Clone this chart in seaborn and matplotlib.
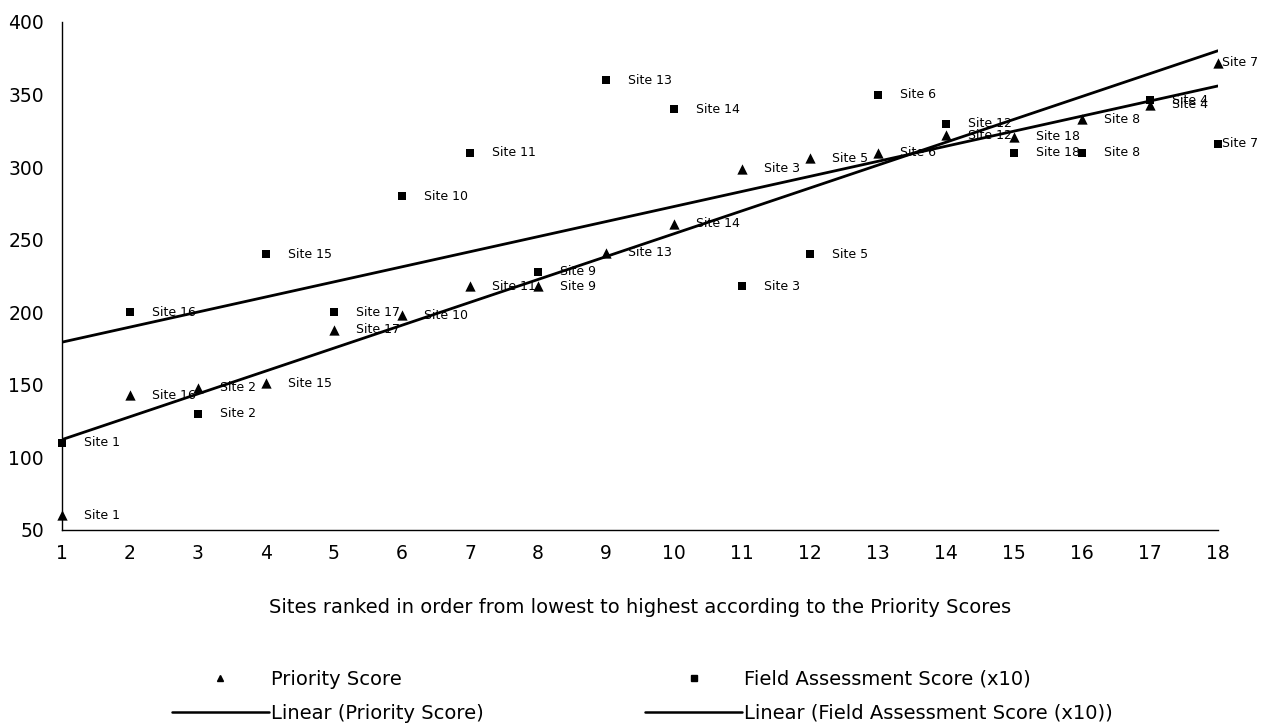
import numpy as np
import pandas as pd
import matplotlib
matplotlib.use("Agg")
import matplotlib.pyplot as plt
from matplotlib.lines import Line2D
import seaborn as sns

# 数据
rank = list(range(1, 19))
sites = ["Site 1", "Site 16", "Site 2", "Site 15", "Site 17", "Site 10", "Site 11", "Site 9", "Site 13",
         "Site 14", "Site 3", "Site 5", "Site 6", "Site 12", "Site 18", "Site 8", "Site 4", "Site 7"]
priority = [60, 143, 148, 151, 188, 198, 218, 218, 241, 261, 299, 306, 310, 322, 321, 333, 343, 372]
field = [110, 200, 130, 240, 200, 280, 310, 228, 360, 340, 218, 240, 350, 330, 310, 310, 346, 316]
y_ticks = [50, 100, 150, 200, 250, 300, 350, 400]

df = pd.DataFrame({"rank": rank, "site": sites, "priority": priority, "field": field})

sns.set_style("white")
plt.rcParams['font.family'] = ['DejaVu Sans']
plt.rcParams['text.color'] = 'black'
plt.rcParams['axes.labelcolor'] = 'black'
plt.rcParams['xtick.color'] = 'black'
plt.rcParams['ytick.color'] = 'black'

fig = plt.figure(figsize=(12.72, 7.26), dpi=100)
ax = fig.add_axes([0.0487, 0.270, 0.9088, 0.6997])

# 散点
sns.scatterplot(data=df, x="rank", y="priority", marker="^", s=55, color="black",
                edgecolor="black", linewidth=0, ax=ax, clip_on=False, zorder=3)
sns.scatterplot(data=df, x="rank", y="field", marker="s", s=34, color="black",
                edgecolor="black", linewidth=0, ax=ax, clip_on=False, zorder=3)

# 线性趋势线
sns.regplot(data=df, x="rank", y="priority", scatter=False, ci=None, ax=ax,
            line_kws={"color": "black", "lw": 2})
sns.regplot(data=df, x="rank", y="field", scatter=False, ci=None, ax=ax,
            line_kws={"color": "black", "lw": 2})

# 数据标签
for col in ["priority", "field"]:
    for r, s, v in zip(df["rank"], df["site"], df[col]):
        dx = 3 if r == rank[-1] else 16
        ax.annotate(s, (r, v), xytext=(dx, 0), textcoords="offset points",
                    ha="left", va="center", fontsize=9, annotation_clip=False)

ax.set_xlim(1, 18)
ax.set_ylim(50, 400)
ax.set_xticks(rank)
ax.set_yticks(y_ticks)
ax.tick_params(axis="both", length=0, labelsize=13.5)
ax.tick_params(axis="x", pad=10)
ax.tick_params(axis="y", pad=13)
ax.set_xlabel("Sites ranked in order from lowest to highest according to the Priority Scores",
              fontsize=14, labelpad=25)
ax.set_ylabel("")
for side in ["top", "right"]:
    ax.spines[side].set_visible(False)
for side in ["left", "bottom"]:
    ax.spines[side].set_color("black")
    ax.spines[side].set_linewidth(1)

handles = [
    Line2D([], [], marker="^", color="black", linestyle="none", markersize=5),
    Line2D([], [], color="black", lw=1.8),
    Line2D([], [], marker="s", color="black", linestyle="none", markersize=4),
    Line2D([], [], color="black", lw=1.8),
]
labels = ["Priority Score", "Linear (Priority Score)",
          "Field Assessment Score (x10)", "Linear (Field Assessment Score (x10))"]
fig.legend(handles, labels, loc="center", bbox_to_anchor=(0.505, 0.041), ncol=2,
           frameon=False, fontsize=14, handlelength=5, handletextpad=0.1,
           columnspacing=8.3, labelspacing=0.75)

fig.savefig("out.png", dpi=100)
